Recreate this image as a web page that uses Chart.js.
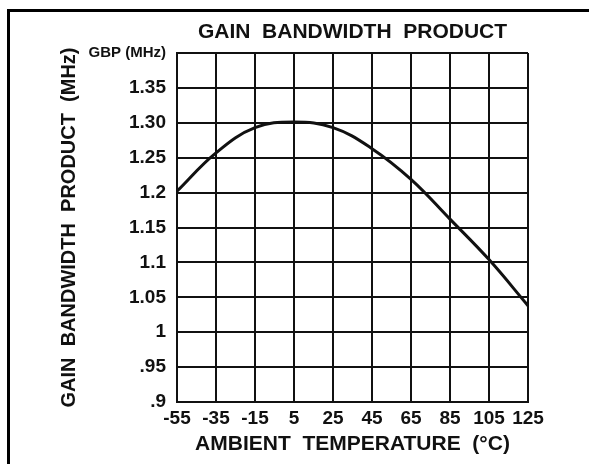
<!DOCTYPE html>
<html>
<head>
<meta charset="utf-8">
<script src="https://cdn.jsdelivr.net/npm/chart.js@4.4.0/dist/chart.umd.min.js"></script>
<style>
html, body { margin: 0; padding: 0; background: #fff; }
</style>
</head>
<body>
<canvas id="gbpChart" width="589" height="464"></canvas>
<script>
// values
const temperatures = [-55, -35, -15, 5, 25, 45, 65, 85, 105, 125];
const gbpValues = [1.202, 1.257, 1.293, 1.301, 1.293, 1.263, 1.219, 1.162, 1.104, 1.038];
const xTickLabels = ['-55', '-35', '-15', '5', '25', '45', '65', '85', '105', '125'];
const yTickLabels = ['.9', '.95', '1', '1.05', '1.1', '1.15', '1.2', '1.25', '1.30', '1.35', 'GBP (MHz)'];
const chartTitle = 'GAIN  BANDWIDTH  PRODUCT';

const fontName = '"Liberation Sans", Arial, Helvetica, sans-serif';

// page frame + title centred over the plot
const framePlugin = {
    id: 'frame',
    beforeDraw(chart) {
        const ctx = chart.ctx;
        ctx.save();
        ctx.fillStyle = '#000';
        ctx.fillRect(7, 9, 3, 455);
        ctx.fillRect(7, 9, 582, 3);
        ctx.restore();
    },
    afterDraw(chart) {
        const ctx = chart.ctx;
        const area = chart.chartArea;
        ctx.save();
        ctx.fillStyle = '#111';
        ctx.font = 'bold 21px ' + fontName;
        ctx.textAlign = 'center';
        ctx.textBaseline = 'middle';
        ctx.fillText(chartTitle, (area.left + area.right) / 2, 32);
        ctx.restore();
    }
};

const chartElement = new Chart(document.getElementById('gbpChart'), {
    type: 'line',
    data: {
        datasets: [{
            label: 'GBP',
            data: temperatures.map((t, i) => ({x: t, y: gbpValues[i]})),
            borderColor: '#111',
            borderWidth: 3,
            pointRadius: 0,
            fill: false,
            tension: 0.4
        }]
    },
    options: {
        responsive: false,
        animation: false,
        layout: {padding: {left: 50, top: 53, right: 61, bottom: 0}},
        plugins: {
            legend: {display: false},
            title: {display: false},
            tooltip: {enabled: false}
        },
        scales: {
            x: {
                type: 'linear',
                min: -55,
                max: 125,
                ticks: {
                    stepSize: 20,
                    color: '#111',
                    padding: 5,
                    maxRotation: 0,
                    autoSkip: false,
                    font: {family: fontName, size: 19, weight: 'bold'},
                    callback: (v, i) => xTickLabels[i]
                },
                grid: {color: '#111', lineWidth: 2, drawTicks: false},
                border: {color: '#111', width: 2},
                title: {
                    display: true,
                    text: 'AMBIENT  TEMPERATURE  (°C)',
                    color: '#111',
                    font: {family: fontName, size: 21, weight: 'bold'},
                    padding: {top: 0, bottom: 7}
                },
                afterFit: scale => { scale.height = 62; }
            },
            y: {
                type: 'linear',
                min: 0.9,
                max: 1.4,
                ticks: {
                    stepSize: 0.05,
                    color: '#111',
                    padding: 11,
                    autoSkip: false,
                    font: ctx => ({
                        family: fontName,
                        size: ctx.index === yTickLabels.length - 1 ? 15 : 19,
                        weight: 'bold'
                    }),
                    callback: (v, i) => yTickLabels[i]
                },
                grid: {color: '#111', lineWidth: 2, drawTicks: false},
                border: {color: '#111', width: 2},
                title: {
                    display: true,
                    text: 'GAIN  BANDWIDTH  PRODUCT  (MHz)',
                    color: '#111',
                    font: {family: fontName, size: 20, weight: 'bold'},
                    padding: {top: 7, bottom: 0}
                },
                afterFit: scale => { scale.width = 127; }
            }
        }
    },
    plugins: [framePlugin]
});
</script>
</body>
</html>
